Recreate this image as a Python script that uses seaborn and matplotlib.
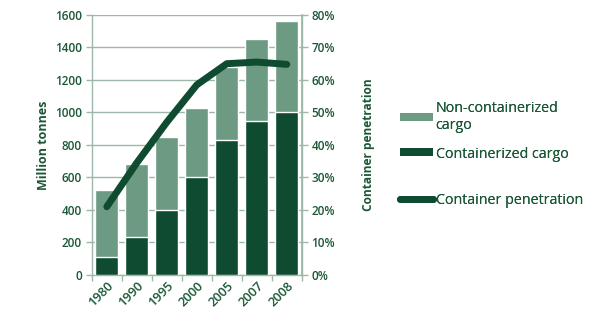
import matplotlib
matplotlib.use("Agg")
import matplotlib.pyplot as plt
import seaborn as sns
import pandas as pd
import numpy as np
from matplotlib.lines import Line2D
from matplotlib.patches import Patch
from matplotlib.ticker import FuncFormatter, MultipleLocator, FixedLocator

years = ["1980", "1990", "1995", "2000", "2005", "2007", "2008"]
total_cargo = [520, 680, 850, 1030, 1280, 1450, 1560]
containerized = [110, 235, 400, 600, 830, 950, 1005]
penetration = [21, 34.5, 47, 58.5, 65, 65.5, 64.8]

DARK = "#0e4b30"
LIGHT = "#6d9a82"
TEXT = "#1b5736"
GRID = "#9cb8a8"

sns.set_theme(style="white")
plt.rcParams["font.family"] = ["Open Sans", "DejaVu Sans"]

df = pd.DataFrame({"year": years, "total": total_cargo,
                   "cont": containerized, "pen": penetration})
df["pos"] = np.arange(len(years))

fig = plt.figure(figsize=(6.0, 3.25), dpi=100)
ax = fig.add_axes([0.153, 0.154, 0.350, 0.800])

sns.barplot(data=df, x="year", y="total", color=LIGHT, width=0.77,
            saturation=1, ax=ax, zorder=2)
sns.barplot(data=df, x="year", y="cont", color=DARK, width=0.77,
            saturation=1, ax=ax, zorder=3)

ax.set_ylim(0, 1600)
ax.set_xlim(-0.5, len(years) - 0.5)
ax.yaxis.set_major_locator(MultipleLocator(200))
ax.grid(axis="y", color=GRID, linewidth=1.0, zorder=0)
ax.set_axisbelow(True)
ax.set_xlabel("")
ax.set_ylabel("Million tonnes", color=TEXT, fontsize=9, fontweight="bold",
              labelpad=4)

ax.spines["top"].set_visible(False)
for s in ["left", "right", "bottom"]:
    ax.spines[s].set_color(GRID)
    ax.spines[s].set_linewidth(1.0)

ax.tick_params(axis="y", colors=TEXT, labelsize=8.5, length=4, width=1,
               color=GRID, direction="out", left=True, pad=3)
ax.tick_params(axis="x", which="major", length=0, labelsize=9.3,
               colors=TEXT, pad=3)
ax.xaxis.set_minor_locator(FixedLocator(np.arange(-0.5, len(years), 1.0)))
ax.tick_params(axis="x", which="minor", length=4, width=1, color=GRID,
               bottom=True)
for lab in ax.get_xticklabels():
    lab.set_rotation(45)
    lab.set_ha("right")
    lab.set_rotation_mode("anchor")
    lab.set_fontweight("semibold")
for lab in ax.get_yticklabels():
    lab.set_fontweight("semibold")

ax2 = ax.twinx()
sns.lineplot(data=df, x="pos", y="pen", color=DARK, linewidth=5,
             ax=ax2, zorder=5, solid_capstyle="round",
             solid_joinstyle="round")
ax2.set_ylim(0, 80)
ax2.set_xlim(-0.5, len(years) - 0.5)
ax2.yaxis.set_major_locator(MultipleLocator(10))
ax2.yaxis.set_major_formatter(FuncFormatter(lambda v, p: f"{v:.0f}%"))
ax2.set_ylabel("Container penetration", color=TEXT, fontsize=8.6,
               fontweight="bold", labelpad=19)
ax2.set_xlabel("")
for s in ["top", "left", "bottom"]:
    ax2.spines[s].set_visible(False)
ax2.spines["right"].set_color(GRID)
ax2.tick_params(axis="y", colors=TEXT, labelsize=8.5, length=4, width=1,
                color=GRID, direction="out", pad=3)
for lab in ax2.get_yticklabels():
    lab.set_fontweight("semibold")
ax2.grid(False)

# Legend entries placed one by one so each row sits at its own height
entries = [
    (Patch(facecolor=LIGHT, edgecolor="none"), "Non-containerized\ncargo", 117),
    (Patch(facecolor=DARK, edgecolor="none"), "Containerized cargo", 154),
    (Line2D([0], [0], color=DARK, linewidth=5, solid_capstyle="round"),
     "Container penetration", 200),
]
H = fig.get_figheight() * fig.dpi
for handle, label, ypix in entries:
    leg = fig.legend([handle], [label], loc="center left",
                     bbox_to_anchor=(0.645, 1 - ypix / H), frameon=False,
                     fontsize=10.3, labelcolor=TEXT, handlelength=2.3,
                     handleheight=0.5, handletextpad=0.2)
    fig.add_artist(leg)

fig.savefig("out.png", dpi=100)
